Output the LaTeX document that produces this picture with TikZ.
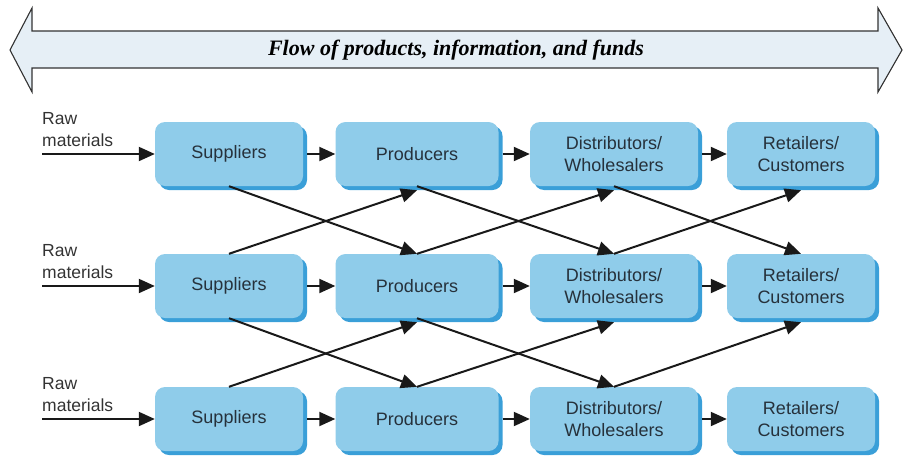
\documentclass[tikz,border=0pt]{standalone}
\usepackage{fontspec}
\setmainfont{Liberation Serif}
\setsansfont{Liberation Sans}
\usetikzlibrary{arrows.meta,shadows,calc}
\definecolor{boxblue}{HTML}{8FCCEA}
\definecolor{shadeblue}{HTML}{3A9FD8}
\definecolor{bandfill}{HTML}{E6EFF6}
\definecolor{txtdark}{HTML}{26313B}
\tikzset{
  box/.style={rounded corners=10pt, fill=boxblue, minimum height=64pt,
    align=center, text=txtdark, font=\sffamily\fontsize{18}{22}\selectfont,
    drop shadow={shadow xshift=4pt, shadow yshift=-4pt, fill=shadeblue, opacity=1}},
  arr/.style={line width=2pt, draw=black!90, -{Triangle[length=16pt,width=14pt]}},
  rawtxt/.style={anchor=west, align=left, text=black!80, inner sep=0pt,
    font=\sffamily\fontsize{17.5}{22}\selectfont}
}
\begin{document}
\begin{tikzpicture}[x=1pt,y=-1pt]
\useasboundingbox (0,0) rectangle (904,458);
% big double arrow
\draw[fill=bandfill, draw=black!80, line width=1.1pt, line join=miter]
  (10,50) -- (32,8) -- (32,31) -- (878,31) -- (878,8) -- (902,50)
  -- (878,92) -- (878,68) -- (32,68) -- (32,92) -- cycle;
\node (band) at (456,50) {\fontsize{22}{24}\selectfont\bfseries\itshape Flow of products, information, and funds};
% boxes
\foreach \r/\y in {1/154,2/286,3/419}{
  \node[box, minimum width=148pt] (s\r) at (229,\y) {Suppliers};
  \node[box, minimum width=163pt] (p\r) at (417,\y) {Producers};
  \node[box, minimum width=168pt] (d\r) at (614,\y) {Distributors/\\Wholesalers};
  \node[box, minimum width=148pt] (c\r) at (801,\y) {Retailers/\\Customers};
  \node[rawtxt] (raw\r) at (42,\y-24) {Raw\\materials};
  \coordinate (in\r) at (42,\y);
  \draw[arr] (in\r) -- (s\r);
  \draw[arr] ($(s\r.east)+(4,0)$) -- (p\r);
  \draw[arr] ($(p\r.east)+(4,0)$) -- (d\r);
  \draw[arr] ($(d\r.east)+(4,0)$) -- (c\r);
}
% crossing arrows rows 1-2
\draw[arr] (s1.south) -- (p2.north);
\draw[arr] (s2.north) -- ($(p1.south)+(0,4)$);
\draw[arr] (p1.south) -- (d2.north);
\draw[arr] (p2.north) -- ($(d1.south)+(0,4)$);
\draw[arr] (d1.south) -- (c2.north);
\draw[arr] (d2.north) -- ($(c1.south)+(0,4)$);
% crossing arrows rows 2-3
\draw[arr] (s2.south) -- (p3.north);
\draw[arr] (s3.north) -- ($(p2.south)+(0,4)$);
\draw[arr] (p2.south) -- (d3.north);
\draw[arr] (p3.north) -- ($(d2.south)+(0,4)$);
\draw[arr] (d3.north) -- ($(c2.south)+(0,4)$);
\end{tikzpicture}
\end{document}
